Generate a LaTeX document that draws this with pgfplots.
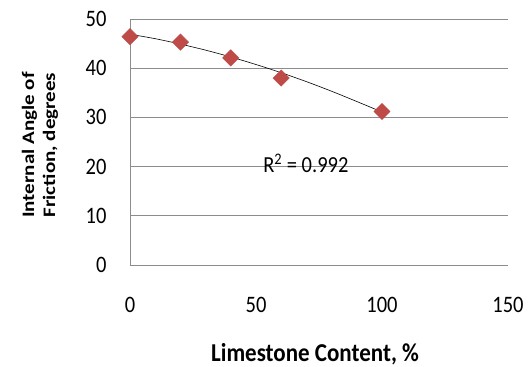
\documentclass[border=0pt]{standalone}
\usepackage{pgfplots}
\pgfplotsset{compat=1.18}
\usepackage{graphicx}
\usepackage{fontspec}
\setmainfont{Carlito}
\definecolor{mk}{HTML}{BE4B48}
\definecolor{gr}{HTML}{8C8C8C}
\begin{document}
\begin{tikzpicture}
\path[use as bounding box] (-130pt,-102pt) rectangle (401pt,265pt);
\begin{axis}[
  scale only axis, width=378pt, height=246pt,
  xmin=0, xmax=150, ymin=0, ymax=50,
  xtick={0,50,100,150}, ytick={0,10,20,30,40,50},
  axis x line*=bottom, axis y line*=left,
  axis line style={gr, line width=0.7pt},
  ymajorgrids, grid style={gr, line width=0.7pt},
  major tick length=0pt,
  tick label style={font=\fontsize{20.5}{24}\selectfont, text=black},
  /pgf/number format/assume math mode=true,
  xticklabel={\scalebox{1}[1.15]{\pgfmathprintnumber{\tick}}},
  yticklabel={\scalebox{1}[1.15]{\pgfmathprintnumber{\tick}}},
  xticklabel style={anchor=center, yshift=-40pt},
  yticklabel style={anchor=east, xshift=-20pt},
  xlabel={\scalebox{1}[1.12]{\textbf{Limestone Content, \%}}},
  ylabel={\scalebox{1.2}[1]{\textbf{Internal Angle of}}\\\scalebox{1.2}[1]{\textbf{Friction, degrees}}},
  xlabel style={font=\fontsize{23}{26}\selectfont, at={(rel axis cs:0.5,0)}, anchor=center, yshift=-89pt, xshift=-4pt},
  ylabel style={font=\fontsize{17.5}{21}\selectfont, align=center, at={(rel axis cs:0,0.5)}, anchor=center, yshift=90pt, xshift=-3pt},
  clip=false,
]
\addplot[black, line width=0.6pt, smooth] coordinates {
  (0,46.9) (10,46.0) (20,44.9) (30,43.67) (40,42.28) (50,40.75)
  (60,39.08) (70,37.27) (80,35.32) (90,33.23) (100,31.1)};
\addplot[only marks, mark=square*, mark size=5.8pt, mark options={rotate=45, fill=mk, draw=mk}] coordinates {
  (0,46.4) (20,45.3) (40,42.1) (60,38.0) (100,31.2)};
\node[font=\fontsize{20.5}{24}\selectfont] at (axis cs:69.8,20.7) {\scalebox{1}[1.12]{R\textsuperscript{2} = 0.992}};
\end{axis}
\end{tikzpicture}
\end{document}
